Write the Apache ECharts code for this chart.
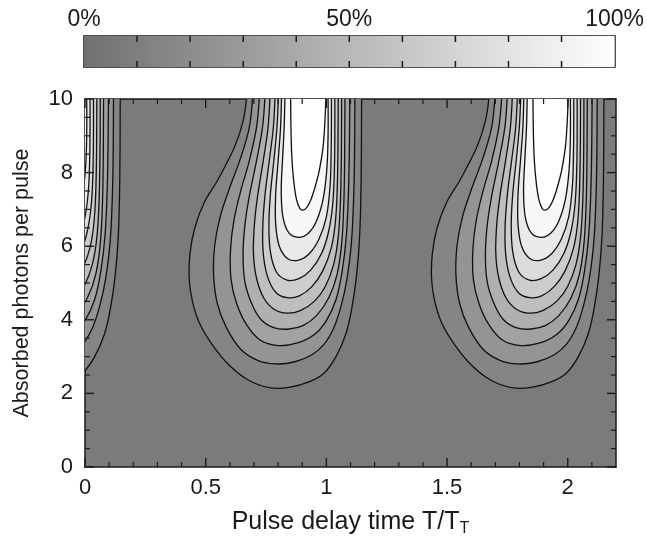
<!DOCTYPE html>
<html><head><meta charset="utf-8">
<script src="https://cdn.jsdelivr.net/npm/echarts@6/dist/echarts.min.js"></script>
<style>html,body{margin:0;padding:0;background:#fff}#c{width:647px;height:542px}</style>
</head><body><div id="c"></div>
<script>
// ---- data ----
const xTickValues = [0, 0.5, 1, 1.5, 2];
const xMinorTickValues = [0.1, 0.2, 0.3, 0.4, 0.6, 0.7, 0.8, 0.9, 1.1, 1.2, 1.3, 1.4, 1.6, 1.7, 1.8, 1.9, 2.1];
const yTickValues = [0, 2, 4, 6, 8, 10];
const yMinorTickValues = [0.5, 1, 1.5, 2.5, 3, 3.5, 4.5, 5, 5.5, 6.5, 7, 7.5, 8.5, 9, 9.5];
const colorbarTickValues = [10, 20, 30, 40, 50, 60, 70, 80, 90];
const colorbarTickLabels = ['0%', '50%', '100%'];
const contourLevels = [10, 20, 30, 40, 50, 60, 70, 80, 90, 100]; // percent
// contour shapes around the peak near T/TT ~ 0.9 (each: [x, y] points)
const c10 = [[0.669,10],[0.655,9.4],[0.62,8.7],[0.55,7.8],[0.495,7.2],[0.455,6.5],[0.435,5.8],[0.432,5.1],[0.445,4.5],[0.475,3.9],[0.53,3.3],[0.60,2.75],[0.68,2.35],[0.77,2.15],[0.85,2.17],[0.93,2.32],[0.99,2.55],[1.04,3.0],[1.08,3.6],[1.105,4.3],[1.125,5.2],[1.138,6.3],[1.144,7.8],[1.146,10]];
const c20 = [[0.694,10],[0.68,9.2],[0.645,8.4],[0.6,7.6],[0.56,6.8],[0.537,6.0],[0.533,5.2],[0.548,4.45],[0.585,3.8],[0.645,3.2],[0.715,2.9],[0.79,2.8],[0.87,2.86],[0.94,3.05],[0.99,3.33],[1.03,3.77],[1.06,4.35],[1.085,5.1],[1.105,6.2],[1.115,7.8],[1.118,10]];
const c30 = [[0.722,10],[0.71,9.2],[0.68,8.3],[0.645,7.5],[0.617,6.7],[0.603,5.9],[0.605,5.1],[0.628,4.45],[0.668,3.88],[0.725,3.45],[0.8,3.3],[0.88,3.37],[0.95,3.6],[1.0,3.98],[1.04,4.55],[1.065,5.3],[1.083,6.3],[1.093,7.8],[1.097,10]];
const c40 = [[0.745,10],[0.735,9.2],[0.71,8.3],[0.682,7.4],[0.663,6.6],[0.655,5.8],[0.662,5.05],[0.69,4.45],[0.73,4.0],[0.785,3.78],[0.845,3.75],[0.905,3.85],[0.96,4.12],[1.01,4.6],[1.045,5.25],[1.065,6.2],[1.074,7.6],[1.077,10]];
const c50 = [[0.766,10],[0.758,9.2],[0.738,8.3],[0.716,7.4],[0.702,6.6],[0.698,5.8],[0.71,5.15],[0.74,4.6],[0.785,4.28],[0.838,4.18],[0.892,4.25],[0.95,4.5],[0.995,4.9],[1.03,5.5],[1.05,6.3],[1.06,7.6],[1.063,10]];
const c60 = [[0.787,10],[0.78,9.2],[0.763,8.3],[0.746,7.4],[0.737,6.6],[0.738,5.85],[0.755,5.2],[0.79,4.75],[0.838,4.6],[0.888,4.65],[0.94,4.9],[0.985,5.33],[1.02,5.95],[1.038,6.7],[1.046,7.8],[1.049,10]];
const c70 = [[0.801,10],[0.795,9.2],[0.782,8.3],[0.768,7.4],[0.762,6.6],[0.768,5.85],[0.793,5.3],[0.837,5.08],[0.886,5.12],[0.935,5.35],[0.98,5.8],[1.01,6.42],[1.027,7.2],[1.034,8.3],[1.035,10]];
const c80 = [[0.814,10],[0.81,9.2],[0.8,8.3],[0.79,7.4],[0.79,6.6],[0.805,6.0],[0.84,5.66],[0.885,5.62],[0.93,5.8],[0.97,6.2],[1.0,6.8],[1.015,7.6],[1.02,8.6],[1.021,10]];
const c90 = [[0.828,10],[0.825,9.2],[0.818,8.3],[0.813,7.5],[0.82,6.8],[0.845,6.36],[0.885,6.24],[0.925,6.35],[0.96,6.7],[0.987,7.3],[1.002,8.1],[1.007,9.0],[1.007,10]];
const c100 = [[0.852,10],[0.854,9.0],[0.858,8.3],[0.866,7.7],[0.877,7.25],[0.89,7.03],[0.903,6.98],[0.918,7.05],[0.935,7.25],[0.955,7.65],[0.972,8.1],[0.988,8.8],[0.998,10]];
const contourShapes = [c10, c20, c30, c40, c50, c60, c70, c80, c90, c100];
// the pattern repeats: peak positions relative to the shapes above
const peakShifts = [-1.0, 0, 1.004];

// ---- chart ----
const X_MAX = 2.2, Y_MAX = 10;
function gray(v) { const g = Math.round(112 + 143 * Math.max(0, Math.min(1, v))); return 'rgb(' + g + ',' + g + ',' + g + ')'; }
const contourItems = [];
peakShifts.forEach(s => contourShapes.forEach((shape, k) => {
  contourItems.push({ pts: shape.map(p => [p[0] + s, p[1]]), level: contourLevels[k] });
}));
// tick items: [value, kind] kind 0 = x major, 1 = x minor, 2 = y major, 3 = y minor
const tickItems = [].concat(
  xTickValues.map(v => [v, 0]), xMinorTickValues.map(v => [v, 1]),
  yTickValues.map(v => [v, 2]), yMinorTickValues.map(v => [v, 3]));

const chart = echarts.init(document.getElementById('c'), null, { renderer: 'canvas' });
const INK = '#1a1a1a';
const FONT = 'Liberation Sans';
const tickFmt = v => (xTickValues.some(t => Math.abs(t - v) < 1e-9) ? String(v) : '');
const cbFmt = v => (v === 0 ? colorbarTickLabels[0] : v === 50 ? colorbarTickLabels[1] : v === 100 ? colorbarTickLabels[2] : '');
const axLine = () => ({ show: true, onZero: false, lineStyle: { color: INK, width: 1.5 } });

function mainAxisX(pos, labels) {
  return {
    type: 'value', gridIndex: 0, position: pos, min: 0, max: X_MAX, interval: 0.5,
    axisLine: axLine(), axisTick: { show: false }, minorTick: { show: false },
    splitLine: { show: false }, minorSplitLine: { show: false },
    axisLabel: { show: labels, fontSize: 22, color: INK, margin: 10, fontFamily: FONT, formatter: tickFmt },
    name: labels ? 'Pulse delay time T/T{sub|T}' : '', nameLocation: 'middle', nameGap: 40,
    nameTextStyle: { fontSize: 25, color: INK, fontFamily: FONT,
      rich: { sub: { fontSize: 16, color: INK, fontFamily: FONT, verticalAlign: 'bottom', padding: [14, 0, 0, 0] } } }
  };
}
function mainAxisY(pos, labels) {
  return {
    type: 'value', gridIndex: 0, position: pos, min: 0, max: Y_MAX, interval: 2,
    axisLine: axLine(), axisTick: { show: false }, minorTick: { show: false },
    splitLine: { show: false }, minorSplitLine: { show: false },
    axisLabel: { show: labels, fontSize: 22, color: INK, margin: 12, fontFamily: FONT },
    name: labels ? 'Absorbed photons per pulse' : '', nameLocation: 'middle', nameGap: 52, nameRotate: 90,
    nameTextStyle: { fontSize: 21.5, color: INK, fontFamily: FONT }
  };
}
function cbAxisX(pos, labels) {
  return {
    type: 'value', gridIndex: 1, position: pos, min: 0, max: 100, interval: 10,
    axisLine: axLine(), axisTick: { show: false }, splitLine: { show: false },
    axisLabel: { show: labels, fontSize: 23, color: INK, margin: 5, fontFamily: FONT, formatter: cbFmt }
  };
}
function cbAxisY(pos) {
  return { type: 'value', gridIndex: 1, min: 0, max: 1, position: pos, axisLine: axLine(),
    axisTick: { show: false }, axisLabel: { show: false }, splitLine: { show: false } };
}

const option = {
  animation: false,
  backgroundColor: '#ffffff',
  grid: [
    { left: 85, right: 31, top: 99, bottom: 72, show: true, backgroundColor: gray(0.08), borderWidth: 0 },
    { left: 84, right: 31, top: 36, height: 31, show: false }
  ],
  xAxis: [mainAxisX('bottom', true), mainAxisX('top', false), cbAxisX('top', true), cbAxisX('bottom', false)],
  yAxis: [mainAxisY('left', true), mainAxisY('right', false), cbAxisY('left'), cbAxisY('right')],
  series: [
    {
      type: 'custom', name: 'colorbar', xAxisIndex: 2, yAxisIndex: 2, silent: true,
      data: [[0, 0, 100, 1]],
      renderItem: (params, api) => {
        const p0 = api.coord([api.value(0), api.value(3)]);
        const p1 = api.coord([api.value(2), api.value(1)]);
        return { type: 'rect', shape: { x: p0[0], y: p0[1], width: p1[0] - p0[0], height: p1[1] - p0[1] },
          style: { fill: new echarts.graphic.LinearGradient(0, 0, 1, 0, [{ offset: 0, color: gray(0) }, { offset: 1, color: gray(1) }]) } };
      }
    },
    {
      type: 'custom', name: 'colorbarTicks', xAxisIndex: 2, yAxisIndex: 2, silent: true, z: 5,
      data: colorbarTickValues.map(v => [v, 0]),
      renderItem: (params, api) => {
        const v = api.value(0);
        const b = api.coord([v, 0]), t = api.coord([v, 1]);
        const st = { stroke: INK, lineWidth: 1.5 };
        return { type: 'group', children: [
          { type: 'line', shape: { x1: b[0], y1: b[1], x2: b[0], y2: b[1] - 6 }, style: st },
          { type: 'line', shape: { x1: t[0], y1: t[1], x2: t[0], y2: t[1] + 6 }, style: st } ] };
      }
    },
    {
      type: 'custom', name: 'fills', xAxisIndex: 0, yAxisIndex: 0, clip: true, silent: true,
      data: contourItems.map((c, i) => [i, c.level]),
      renderItem: (params, api) => {
        const item = contourItems[params.dataIndex];
        const pts = item.pts.map(p => api.coord(p));
        const first = item.pts[0], last = item.pts[item.pts.length - 1];
        const poly = [api.coord([first[0], Y_MAX + 0.5])].concat(pts, [api.coord([last[0], Y_MAX + 0.5])]);
        const v = item.level >= 100 ? 1 : item.level / 100 + 0.05;
        return { type: 'polygon', shape: { points: poly, smooth: 0.35 }, style: { fill: gray(v), stroke: null } };
      }
    },
    {
      type: 'custom', name: 'contours', xAxisIndex: 0, yAxisIndex: 0, clip: true, silent: true,
      data: contourItems.map((c, i) => [i, c.level]),
      renderItem: (params, api) => {
        const item = contourItems[params.dataIndex];
        const pts = item.pts.map(p => api.coord(p));
        return { type: 'polyline', shape: { points: pts, smooth: 0.35 }, style: { fill: null, stroke: '#111', lineWidth: 1.3 } };
      }
    },
    {
      type: 'custom', name: 'ticks', xAxisIndex: 0, yAxisIndex: 0, silent: true, z: 5,
      data: tickItems,
      renderItem: (params, api) => {
        const v = api.value(0), kind = api.value(1);
        const len = (kind === 0 || kind === 2) ? 9 : 5;
        const st = { stroke: INK, lineWidth: kind % 2 === 0 ? 1.4 : 1.2 };
        if (kind < 2) {
          const b = api.coord([v, 0]), t = api.coord([v, Y_MAX]);
          return { type: 'group', children: [
            { type: 'line', shape: { x1: b[0], y1: b[1], x2: b[0], y2: b[1] - len }, style: st },
            { type: 'line', shape: { x1: t[0], y1: t[1], x2: t[0], y2: t[1] + len }, style: st } ] };
        }
        const l = api.coord([0, v]), r = api.coord([X_MAX, v]);
        return { type: 'group', children: [
          { type: 'line', shape: { x1: l[0], y1: l[1], x2: l[0] + len, y2: l[1] }, style: st },
          { type: 'line', shape: { x1: r[0], y1: r[1], x2: r[0] - len, y2: r[1] }, style: st } ] };
      }
    }
  ]
};
chart.setOption(option);
</script></body></html>
